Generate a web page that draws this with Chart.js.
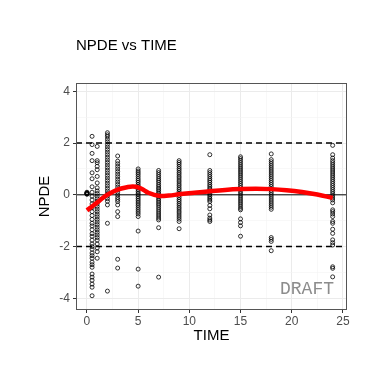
<!DOCTYPE html>
<html>
<head>
<meta charset="utf-8">
<script src="https://cdn.jsdelivr.net/npm/chart.js@4.4.1/dist/chart.umd.min.js"></script>
<style>
  body { margin: 0; background: #fff; }
  canvas { display: block; }
</style>
</head>
<body>
<canvas id="npdePlot" width="384" height="384"></canvas>
<script>
// observed NPDE, one array per nominal sampling time
const times = [0, 0.5, 1, 2, 3, 5, 7, 9, 12, 15, 18, 24];

const npde_t0 = [0.02, 0.05, 0.08, 0.04, 0.1, 0.06];
const npde_t05 = [2.26, 1.94, 1.6, 1.32, 0.85, 0.62, 0.31, 0.1, -0.05, -0.2, -0.35, -0.5, -0.65, -0.8,
  -0.95, -1.1, -1.2, -1.35, -1.5, -1.6, -1.75, -1.9, -2.0, -2.1, -2.25, -2.35, -2.45, -2.6, -2.7, -2.8,
  -3.06, -3.18, -3.3, -3.45, -3.57, -3.9];
const npde_t1 = [1.87, 1.32, 1.24, 1.1, 0.97, 0.71, 0.46, 0.27, 0.15, 0.05, -0.05, -0.15, -0.25, -0.35,
  -0.45, -0.55, -0.65, -0.75, -0.85, -0.95, -1.05, -1.15, -1.25, -1.35, -1.45, -1.55, -1.65, -1.75,
  -1.9, -2.05, -2.2, -2.45];
const npde_t2 = [2.4, 2.32, 2.25, 2.15, 2.05, 1.95, 1.85, 1.75, 1.65, 1.55, 1.45, 1.35, 1.25, 1.15, 1.05,
  0.95, 0.85, 0.75, 0.65, 0.55, 0.45, 0.35, 0.25, 0.15, 0.05, -0.05, -0.15, -0.25, -0.39, -1.1, -3.72];
const npde_t3 = [1.5, 1.3, 1.2, 1.1, 1.0, 0.9, 0.8, 0.7, 0.6, 0.5, 0.4, 0.3, 0.2, 0.1, 0.0, -0.1, -0.18,
  -0.26, -0.39, -0.65, -0.84, -2.49, -2.83];
const npde_t5 = [1.0, 0.92, 0.85, 0.78, 0.7, 0.62, 0.55, 0.48, 0.4, 0.33, 0.26, 0.2, 0.13, 0.06, 0.0,
  -0.07, -0.14, -0.21, -0.28, -0.35, -0.42, -0.5, -0.58, -0.66, -0.74, -0.84, -1.4, -2.87, -3.53];
const npde_t7 = [0.94, 0.86, 0.78, 0.7, 0.62, 0.55, 0.48, 0.4, 0.33, 0.26, 0.2, 0.13, 0.06, 0.0, -0.07,
  -0.14, -0.21, -0.28, -0.35, -0.42, -0.5, -0.58, -0.66, -0.74, -0.82, -0.9, -0.97, -1.27, -3.18];
const npde_t9 = [1.32, 1.25, 1.18, 1.1, 1.02, 0.95, 0.87, 0.8, 0.72, 0.65, 0.57, 0.5, 0.42, 0.35, 0.27,
  0.2, 0.12, 0.05, -0.02, -0.1, -0.18, -0.25, -0.33, -0.4, -0.48, -0.55, -0.63, -0.7, -0.78, -0.86,
  -0.94, -1.03, -1.31];
const npde_t12 = [1.55, 0.94, 0.86, 0.78, 0.7, 0.62, 0.55, 0.48, 0.4, 0.33, 0.26, 0.2, 0.13, 0.06, 0.0,
  -0.07, -0.14, -0.2, -0.26, -0.41, -0.54, -0.78, -0.9, -0.97, -1.03];
const npde_t15 = [1.47, 1.4, 1.32, 1.24, 1.16, 1.08, 1.0, 0.92, 0.84, 0.76, 0.68, 0.6, 0.52, 0.44, 0.36,
  0.28, 0.2, 0.12, 0.04, -0.04, -0.12, -0.2, -0.28, -0.36, -0.44, -0.52, -0.58, -0.93, -1.07, -1.2, -1.6];
const npde_t18 = [1.58, 1.36, 1.28, 1.2, 1.12, 1.04, 0.96, 0.88, 0.8, 0.72, 0.64, 0.56, 0.48, 0.4, 0.32,
  0.24, 0.16, 0.08, 0.0, -0.08, -0.16, -0.24, -0.32, -0.4, -0.48, -0.56, -1.65, -1.72, -1.8, -2.16];
const npde_t24 = [1.91, 1.55, 1.42, 1.32, 1.24, 1.16, 1.08, 1.0, 0.92, 0.84, 0.76, 0.68, 0.6, 0.52, 0.44,
  0.36, 0.28, 0.2, 0.12, 0.04, -0.04, -0.12, -0.2, -0.31, -0.58, -0.65, -0.74, -0.84, -1.03, -1.1, -1.33,
  -1.49, -1.74, -1.85, -1.94, -2.78, -2.84, -3.17];

const npdeByTime = [npde_t0, npde_t05, npde_t1, npde_t2, npde_t3, npde_t5, npde_t7, npde_t9,
  npde_t12, npde_t15, npde_t18, npde_t24];

// loess smooth
const smoothTime = [0, 0.5, 1, 1.5, 2, 3, 4, 4.5, 5, 5.5, 6, 7, 8, 9, 10.5, 12, 13.5, 15, 16.5, 18, 19.5, 21, 22.5, 24];
const smoothNpde = [-0.6, -0.45, -0.3, -0.13, 0.0, 0.2, 0.3, 0.32, 0.29, 0.2, 0.08, -0.04, -0.03, 0.02,
  0.08, 0.14, 0.19, 0.22, 0.23, 0.22, 0.18, 0.11, 0.01, -0.12];

const refLines = [-2, 0, 2];
const xTicks = [0, 5, 10, 15, 20, 25];
const yTicks = [-4, -2, 0, 2, 4];

const points = [];
times.forEach((t, i) => {
  npdeByTime[i].forEach(v => points.push({x: t, y: v}));
});
const smooth = smoothTime.map((t, i) => ({x: t, y: smoothNpde[i]}));

const FONT = '"Liberation Sans", Arial, sans-serif';

const panelDecor = {
  id: 'panelDecor',
  beforeDatasetsDraw(chart) {
    const {ctx, chartArea: a, scales: {y}} = chart;
    ctx.save();
    refLines.forEach(v => {
      const py = y.getPixelForValue(v);
      ctx.beginPath();
      ctx.strokeStyle = '#000';
      if (v === 0) {
        ctx.setLineDash([]);
        ctx.lineWidth = 1;
      } else {
        ctx.setLineDash([6, 4]);
        ctx.lineWidth = 1.5;
      }
      ctx.moveTo(a.left, py);
      ctx.lineTo(a.right, py);
      ctx.stroke();
    });
    ctx.restore();
  },
  afterDraw(chart) {
    const {ctx, chartArea: a} = chart;
    ctx.save();
    ctx.strokeStyle = '#555';
    ctx.lineWidth = 1;
    ctx.strokeRect(a.left + 0.5, a.top + 0.5, a.right - a.left - 1, a.bottom - a.top - 1);

    ctx.fillStyle = '#000';
    ctx.font = '15px ' + FONT;
    ctx.textAlign = 'left';
    ctx.textBaseline = 'alphabetic';
    ctx.fillText('NPDE vs TIME', a.left, 50);

    ctx.fillStyle = '#8c8c8c';
    ctx.font = '18px "Liberation Mono", "DejaVu Sans Mono", monospace';
    ctx.textAlign = 'right';
    ctx.fillText('DRAFT', a.right - 13, a.bottom - 16);
    ctx.restore();
  }
};

new Chart('npdePlot', {
  type: 'scatter',
  data: {
    datasets: [{
      data: points,
      pointStyle: 'circle',
      pointRadius: 2,
      pointBorderWidth: 0.8,
      borderColor: '#000',
      backgroundColor: 'rgba(0,0,0,0)',
      order: 2
    }, {
      type: 'line',
      data: smooth,
      borderColor: '#ff0000',
      borderWidth: 4.5,
      pointRadius: 0,
      tension: 0.4,
      fill: false,
      order: 1
    }]
  },
  options: {
    responsive: false,
    animation: false,
    layout: {padding: {left: 36, right: 37, top: 83, bottom: 39}},
    plugins: {legend: {display: false}, tooltip: {enabled: false}},
    scales: {
      x: {
        type: 'linear',
        min: -1.07,
        max: 25.4,
        afterFit(s) { s.height = 35; },
        border: {display: false},
        grid: {
          color: ctx => xTicks.includes(ctx.tick.value) ? '#ebebeb' : '#f4f4f4',
          lineWidth: ctx => xTicks.includes(ctx.tick.value) ? 1 : 0.6,
          tickColor: ctx => xTicks.includes(ctx.tick.value) ? '#333' : 'rgba(0,0,0,0)',
          tickLength: 3
        },
        ticks: {
          stepSize: 2.5,
          includeBounds: false,
          autoSkip: false,
          maxRotation: 0,
          padding: 1,
          color: '#4d4d4d',
          font: {family: FONT, size: 12},
          callback: v => xTicks.includes(v) ? String(v) : ''
        },
        title: {display: true, text: 'TIME', color: '#000', padding: 0, font: {family: FONT, size: 15}}
      },
      y: {
        type: 'linear',
        min: -4.45,
        max: 4.32,
        afterFit(s) { s.width = 40; },
        border: {display: false},
        grid: {
          color: ctx => yTicks.includes(ctx.tick.value) ? '#ebebeb' : '#f4f4f4',
          lineWidth: ctx => yTicks.includes(ctx.tick.value) ? 1 : 0.6,
          tickColor: ctx => yTicks.includes(ctx.tick.value) ? '#333' : 'rgba(0,0,0,0)',
          tickLength: 3
        },
        ticks: {
          stepSize: 1,
          includeBounds: false,
          autoSkip: false,
          padding: 3,
          color: '#4d4d4d',
          font: {family: FONT, size: 12},
          callback: v => yTicks.includes(v) ? String(v) : ''
        },
        title: {display: true, text: 'NPDE', color: '#000', padding: 0, font: {family: FONT, size: 15}}
      }
    }
  },
  plugins: [panelDecor]
});
</script>
</body>
</html>
